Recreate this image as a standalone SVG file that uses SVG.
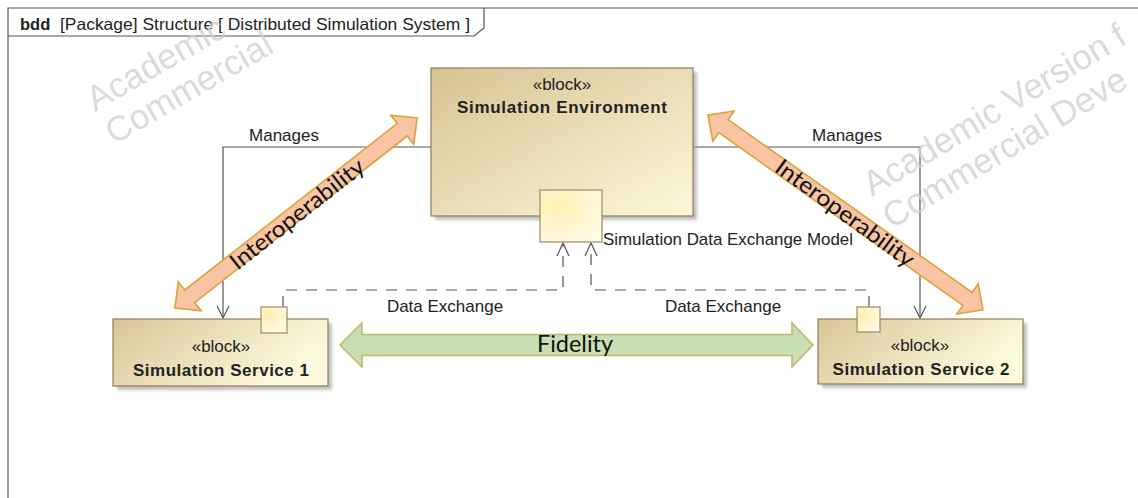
<svg xmlns="http://www.w3.org/2000/svg" width="1138" height="498" viewBox="0 0 1138 498">
<defs>
<linearGradient id="blk" x1="0" y1="0" x2="1" y2="1">
<stop offset="0" stop-color="#D6C393"/>
<stop offset="1" stop-color="#FDF8DA"/>
</linearGradient>
<linearGradient id="blkw" x1="0" y1="0" x2="1" y2="0.4">
<stop offset="0" stop-color="#D8C597"/>
<stop offset="1" stop-color="#FEFADD"/>
</linearGradient>
<radialGradient id="port" cx="0.3" cy="0.3" r="0.9">
<stop offset="0" stop-color="#FFEFB0"/>
<stop offset="1" stop-color="#FFFCEC"/>
</radialGradient>
<filter id="sh" x="-10%" y="-10%" width="130%" height="130%">
<feGaussianBlur stdDeviation="1.5"/>
</filter>
</defs>
<style>
text{font-family:"Liberation Sans",Arial,sans-serif;fill:#222}
.lbl{font-size:17px}
.b{font-weight:bold}
.blockbox{stroke:#8F7E58;stroke-width:1.2}
.shadow{fill:#9A9A9A;opacity:0.6}
.portbox{fill:url(#port);stroke:#9E8B5C;stroke-width:1.2}
.line{fill:none;stroke:#555;stroke-width:1.2}
.dash{fill:none;stroke:#555;stroke-width:1.2;stroke-dasharray:11 9}
.head{fill:none;stroke:#555;stroke-width:1.2}
.wm{font-size:35px;fill:#D2D2D2;opacity:0.8}
.interop{fill:#F8C4A3;stroke:#D9A43B;stroke-width:1.6}
.fid{fill:#C6E0B4;stroke:#C2B86C;stroke-width:1.6}
.overlay{font-family:Lato,"Open Sans",sans-serif;fill:#111}
</style>
<rect x="0" y="0" width="1138" height="498" fill="#FFFFFF"/>

<g id="frame">
<path class="line" d="M8,498 L8,8 L1138,8"/>
<path class="line" d="M8,36 L474,36 L484,28 L484,8"/>
<text x="20" y="30" font-size="16.5" class="b">bdd</text>
<text x="60" y="30" font-size="16.5" textLength="410" lengthAdjust="spacingAndGlyphs">[Package] Structure [ Distributed Simulation System ]</text>
</g>

<g id="connectors">
<path class="line" d="M431,147 L223,147 L223,318"/>
<path class="head" d="M217,306 L223,318 L229,306"/>
<text class="lbl" x="284" y="141" text-anchor="middle">Manages</text>
<path class="line" d="M693,147 L920,147 L920,318"/>
<path class="head" d="M914,306 L920,318 L926,306"/>
<text class="lbl" x="847" y="141" text-anchor="middle">Manages</text>
<path class="dash" d="M283,307 L283,290 L563,290 L563,244"/>
<path class="head" d="M557,256 L563,243 L569,256"/>
<path class="dash" d="M869,307 L869,290 L591,290 L591,244"/>
<path class="head" d="M585,256 L591,243 L597,256"/>
<text class="lbl" x="445" y="312" text-anchor="middle">Data Exchange</text>
<text class="lbl" x="723" y="312" text-anchor="middle">Data Exchange</text>
</g>

<g id="simulation-environment">
<rect class="shadow" x="435" y="72" width="262" height="148" filter="url(#sh)"/>
<rect class="blockbox" x="431" y="68" width="262" height="148" fill="url(#blk)"/>
<text class="lbl" x="562" y="90" text-anchor="middle">«block»</text>
<text class="lbl b" x="562" y="113" text-anchor="middle" textLength="210" lengthAdjust="spacing">Simulation Environment</text>
<rect class="portbox" x="540" y="190" width="62" height="52"/>
<text class="lbl" x="603" y="245" textLength="250" lengthAdjust="spacingAndGlyphs">Simulation Data Exchange Model</text>
</g>

<g id="simulation-service-1">
<rect class="shadow" x="117" y="323" width="215" height="67" filter="url(#sh)"/>
<rect class="blockbox" x="113" y="319" width="215" height="67" fill="url(#blkw)"/>
<rect class="portbox" x="261" y="307" width="26" height="26"/>
<text class="lbl" x="221" y="352" text-anchor="middle">«block»</text>
<text class="lbl b" x="221" y="376" text-anchor="middle" textLength="176" lengthAdjust="spacing">Simulation Service 1</text>
</g>

<g id="simulation-service-2">
<rect class="shadow" x="822" y="323" width="205" height="65" filter="url(#sh)"/>
<rect class="blockbox" x="818" y="319" width="205" height="65" fill="url(#blkw)"/>
<rect class="portbox" x="857" y="307" width="23" height="25"/>
<text class="lbl" x="920" y="351" text-anchor="middle">«block»</text>
<text class="lbl b" x="921" y="375" text-anchor="middle" textLength="177" lengthAdjust="spacing">Simulation Service 2</text>
</g>

<g id="watermark">
<g transform="translate(95,112) rotate(-30)">
<text class="wm" x="0" y="0">Academic</text>
<text class="wm" x="0" y="38">Commercial</text>
</g>
<g transform="translate(872,197) rotate(-31)">
<text class="wm" x="0" y="0">Academic Version f</text>
<text class="wm" x="0" y="38">Commercial Deve</text>
</g>
</g>

<g id="interoperability-left">
<path class="interop" transform="translate(296,213) rotate(-38.1)" d="M-154,0 L-135,-18.5 L-135,-8 L135,-8 L135,-18.5 L154,0 L135,18.5 L135,8 L-135,8 L-135,18.5 Z"/>
<text class="overlay" transform="translate(297,214) rotate(-38.1)" x="0" y="8" font-size="23" text-anchor="middle" textLength="164" lengthAdjust="spacingAndGlyphs">Interoperability</text>
</g>

<g id="interoperability-right">
<path class="interop" transform="translate(845.5,212.5) rotate(35.3)" d="M-168.5,0 L-149.5,-18.5 L-149.5,-8 L149.5,-8 L149.5,-18.5 L168.5,0 L149.5,18.5 L149.5,8 L-149.5,8 L-149.5,18.5 Z"/>
<text class="overlay" transform="translate(845,213) rotate(36)" x="0" y="8" font-size="23" text-anchor="middle" textLength="166" lengthAdjust="spacingAndGlyphs">Interoperability</text>
</g>

<g id="fidelity">
<path class="fid" d="M340,345 L362,323 L362,334.5 L792,334.5 L792,323 L813,345 L792,367 L792,355.5 L362,355.5 L362,367 Z"/>
<text class="overlay" x="575" y="352" font-size="24" text-anchor="middle" textLength="76" lengthAdjust="spacingAndGlyphs">Fidelity</text>
</g>
</svg>
